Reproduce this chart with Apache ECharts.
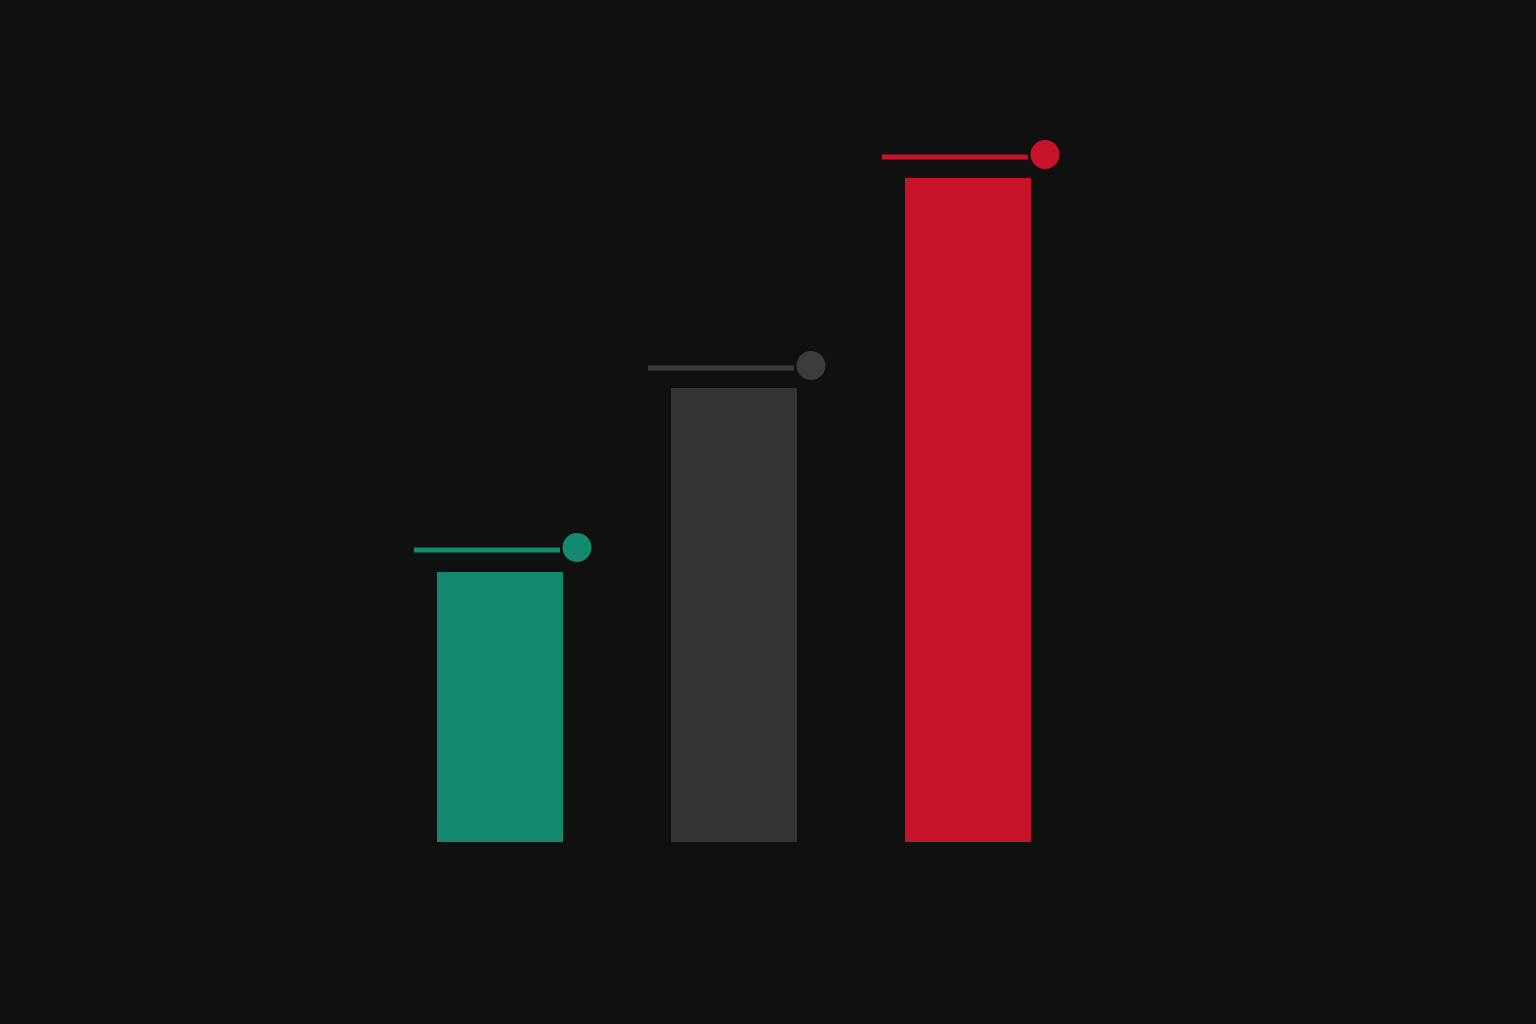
<!DOCTYPE html>
<html>
<head>
<meta charset="utf-8">
<script src="https://cdn.jsdelivr.net/npm/echarts@6/dist/echarts.min.js"></script>
<style>
html,body{margin:0;padding:0;background:#101010;}
#chart{width:1536px;height:1024px;}
</style>
</head>
<body>
<div id="chart"></div>
<script>
const categories = ['A', 'B', 'C'];
const barValues = [270, 454, 664];
const targetValues = [292, 474, 685];
const colors = ['#128a6e', '#333335', '#c8142a'];
const markerColors = ['#128a6e', '#3c3c3e', '#c8142a'];

const chart = echarts.init(document.getElementById('chart'));
chart.setOption({
  backgroundColor: '#101010',
  animation: false,
  grid: { left: 383, right: 451, top: 142, bottom: 182 },
  xAxis: {
    type: 'category',
    data: categories,
    axisLine: { show: false },
    axisTick: { show: false },
    axisLabel: { show: false },
    splitLine: { show: false }
  },
  yAxis: {
    type: 'value',
    min: 0,
    max: 700,
    axisLine: { show: false },
    axisTick: { show: false },
    axisLabel: { show: false },
    splitLine: { show: false }
  },
  series: [
    {
      type: 'bar',
      barWidth: 126,
      data: barValues.map((v, i) => ({ value: v, itemStyle: { color: colors[i] } }))
    },
    {
      type: 'custom',
      data: targetValues.map((v, i) => [i, v]),
      renderItem: function (params, api) {
        const p = api.coord([api.value(0), api.value(1)]);
        const c = markerColors[params.dataIndex];
        return {
          type: 'group',
          children: [
            {
              type: 'line',
              shape: { x1: p[0] - 86, y1: p[1], x2: p[0] + 60, y2: p[1] },
              style: { stroke: c, lineWidth: 5 }
            },
            {
              type: 'circle',
              shape: { cx: p[0] + 77, cy: p[1] - 2.5, r: 14.5 },
              style: { fill: c }
            }
          ]
        };
      }
    }
  ]
});
</script>
</body>
</html>
